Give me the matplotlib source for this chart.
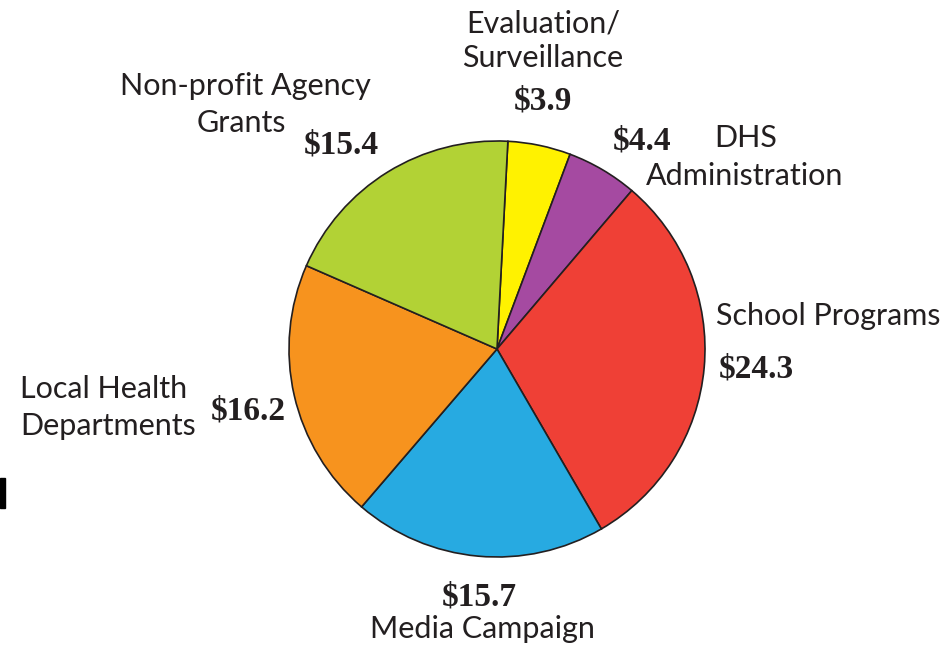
import matplotlib.pyplot as plt
from matplotlib.patches import Rectangle

# budget split, millions of dollars (clockwise from top)
categories = ["Evaluation/\nSurveillance", "DHS\nAdministration", "School Programs",
              "Media Campaign", "Local Health\nDepartments", "Non-profit Agency\nGrants"]
values = [3.9, 4.4, 24.3, 15.7, 16.2, 15.4]
colors = ["#FFF200", "#A54AA1", "#EF4036", "#27AAE1", "#F7931E", "#B2D235"]

W, H = 951, 651
fig = plt.figure(figsize=(W / 100, H / 100), dpi=100)
ax = fig.add_axes([0, 0, 1, 1])

ax.pie(values, colors=colors, startangle=87, counterclock=False,
       center=(497, H - 349), radius=208, frame=True,
       wedgeprops=dict(edgecolor="#231F20", linewidth=1.2))
ax.set_xlim(0, W)
ax.set_ylim(0, H)
ax.set_aspect("equal")
ax.axis("off")

txt = "#231F20"
lab = dict(family="Lato", fontsize=22, color=txt, va="baseline")
val = dict(family="Liberation Serif", fontsize=24, fontweight="bold", color=txt,
           va="baseline", ha="center")


def y(p):
    return H - p


def lines(x, base, text, ha="center", step=37):
    # each label line as its own text, baselines in image pixels
    for i, s in enumerate(text.split("\n")):
        ax.text(x, y(base + i * step), s, ha=ha, **lab)


lines(543, 32, categories[0], step=35)
ax.text(543, y(110), f"${values[0]}", **val)

ax.text(642, y(150), f"${values[1]}", **val)
ax.text(746, y(147), "DHS", ha="center", **lab)
ax.text(745, y(185), "Administration", ha="center", **lab)

ax.text(828, y(325), categories[2], ha="center", **lab)
ax.text(756, y(378), f"${values[2]}", **val)

ax.text(479, y(605), f"${values[3]}", **val)
ax.text(482, y(638), categories[3], ha="center", **lab)

lines(20, 398, categories[4], ha="left")
ax.text(248, y(420), f"${values[4]}", **val)

ax.text(245, y(95), "Non-profit Agency", ha="center", **lab)
ax.text(241, y(132), "Grants", ha="center", **lab)
ax.text(341, y(153), f"${values[5]}", **val)

# stray mark at the left edge of the scan
ax.add_patch(Rectangle((0, y(508)), 5, 30, color="black"))

fig.savefig("out.png", dpi=100)
